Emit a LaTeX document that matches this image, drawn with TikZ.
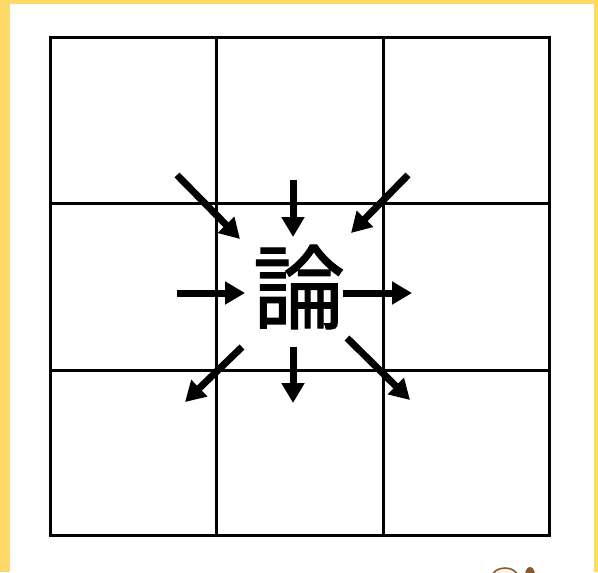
\documentclass[tikz,border=0pt]{standalone}
\usepackage{fontspec}
\usepackage{xcolor}
\usepackage{tikz}
\usetikzlibrary{arrows.meta}
\newfontfamily\jpfont{Noto Sans CJK JP}[FakeBold=1.2]
\definecolor{frameyellow}{HTML}{FFD966}
\definecolor{mascot}{HTML}{8B5A2B}
\tikzset{
  gridline/.style={line width=1.5pt, draw=black},
  arr/.style={-{Triangle[length=10pt, width=11pt]}, line width=3.5pt, draw=black},
  kanji/.style={font=\jpfont\fontsize{46}{46}\selectfont, inner sep=0pt},
}

\begin{document}
\begin{tikzpicture}[x=0.5pt, y=-0.5pt]
    \useasboundingbox (0,0) rectangle (598,572);
    \fill[frameyellow] (0,0) rectangle (598,572);
    \fill[white] (10,4) rectangle (594,572);
    % 3x3 grid
    \draw[gridline] (50,38) rectangle (549,535);
    \draw[gridline] (216,38) -- (216,535) (383,38) -- (383,535);
    \draw[gridline] (50,203) -- (549,203) (50,370) -- (549,370);
    \node[kanji] (ron) at (299,287) {論};
    % arrow ends
    \coordinate (tl0) at (177,175); \coordinate (tl1) at (240,239);
    \coordinate (t0) at (293,180);  \coordinate (t1) at (293,237);
    \coordinate (tr0) at (408,175); \coordinate (tr1) at (351,233);
    \coordinate (l0) at (177,293);  \coordinate (l1) at (245,293);
    \coordinate (r0) at (343,293);  \coordinate (r1) at (412,293);
    \coordinate (bl0) at (242,347); \coordinate (bl1) at (185,402);
    \coordinate (b0) at (293,347);  \coordinate (b1) at (293,403);
    \coordinate (br0) at (347,338); \coordinate (br1) at (410,400);
    \foreach \a in {tl,t,tr,l,r,bl,b,br}
      \draw[arr] (\a0) -- (\a1);
    % corner of the mascot
    \begin{scope}
      \clip (10,4) rectangle (594,572);
      \draw[mascot, line width=0.8pt, fill=pink!15] (505,577) ellipse (13 and 9);
      \fill[mascot] (530,575) ellipse (5 and 8);
    \end{scope}
\end{tikzpicture}
\end{document}
